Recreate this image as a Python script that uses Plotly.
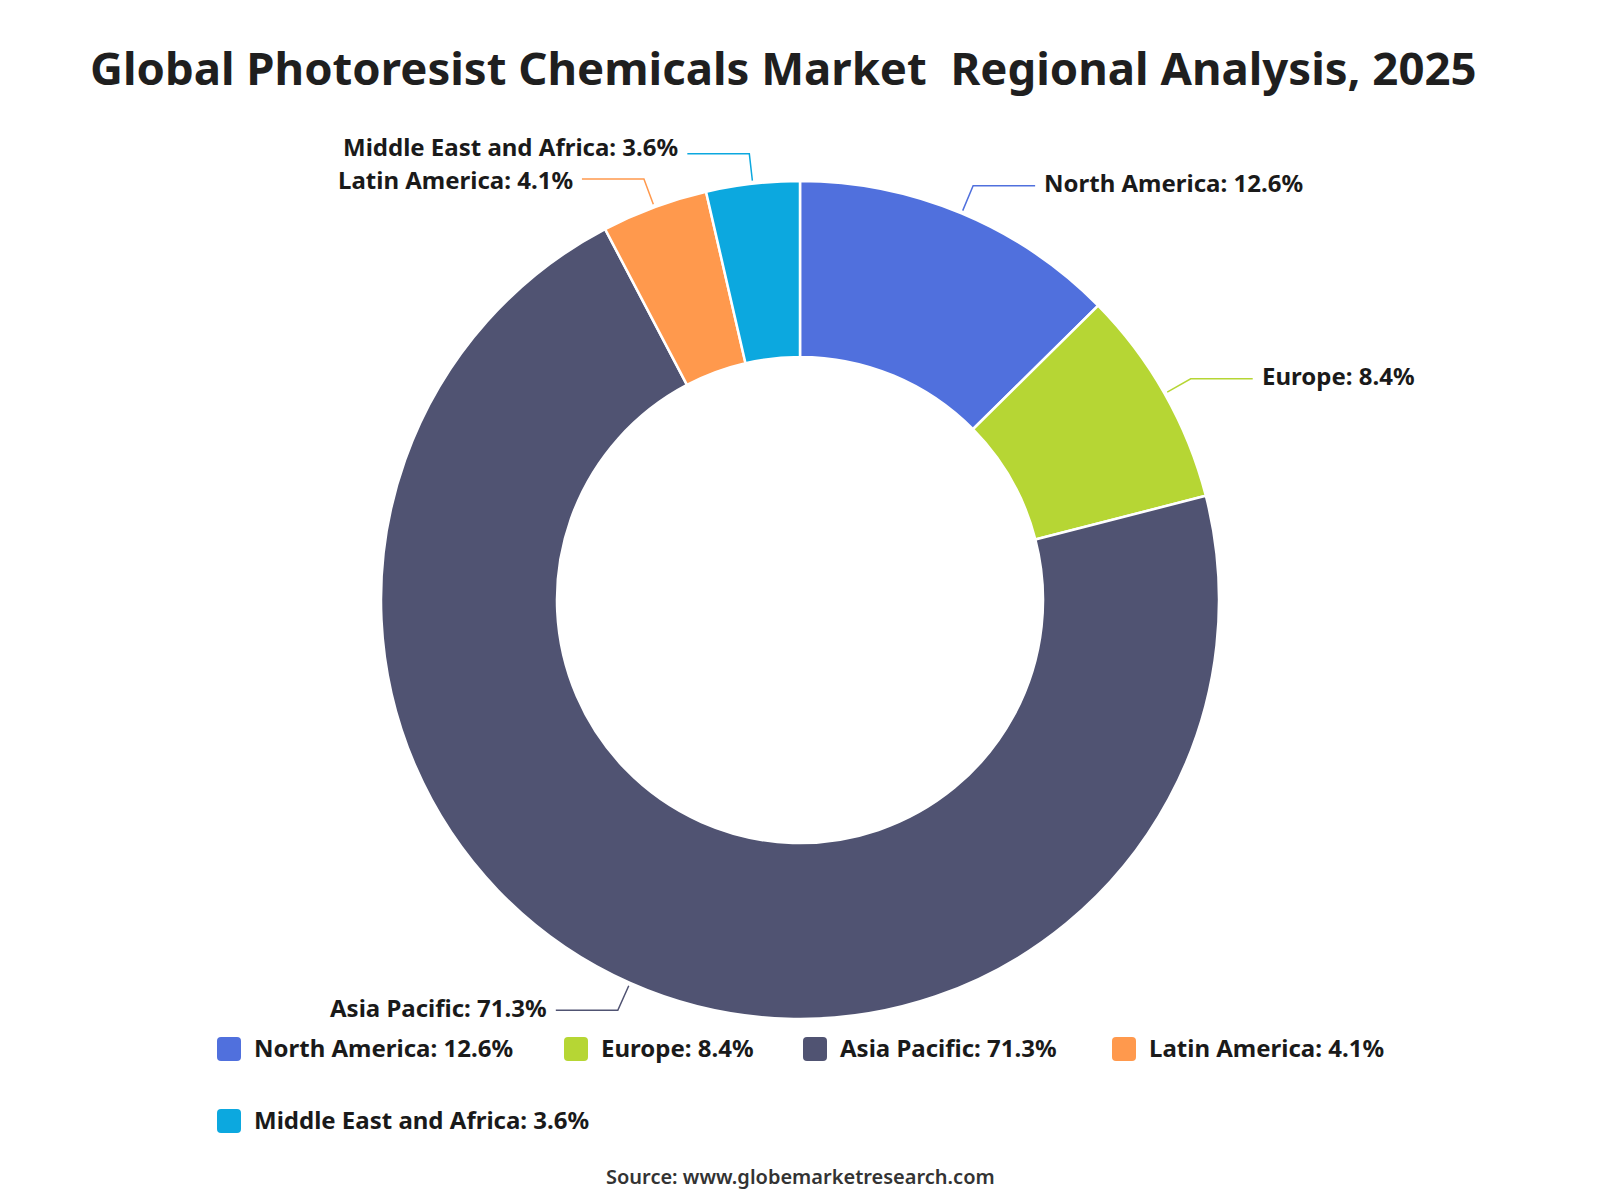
import math
import plotly.graph_objects as go

# ---- data ----
regions = ["North America", "Europe", "Asia Pacific", "Latin America", "Middle East and Africa"]
shares = [12.6, 8.4, 71.3, 4.1, 3.6]
colors = ["#5070dd", "#b6d634", "#505372", "#ff994d", "#0ca8df"]
title_text = "Global Photoresist Chemicals Market  Regional Analysis, 2025"
source_text = "Source: www.globemarketresearch.com"

# ---- layout constants (pixels) ----
W, H = 1600, 1200
CX, CY, R = 800, 600, 419
HOLE = 0.58
FONT = "Noto Sans"
LABEL_SIZE = 24
R1, R2, HLEN, GAP = 422, 449, 62, 7
LABEL_DY = -3
MIN_SPACING = 33
LEGEND_POS = [(217, 1049), (564, 1049), (803, 1049), (1112, 1049), (217, 1121)]
SW = 24


def px(x):
    return x / W


def py(y):
    return 1 - y / H


labels_full = [f"{r}: {v}%" for r, v in zip(regions, shares)]

fig = go.Figure(go.Pie(
    labels=regions,
    values=shares,
    hole=HOLE,
    sort=False,
    direction="clockwise",
    rotation=0,
    marker=dict(colors=colors, line=dict(color="white", width=2.5)),
    textinfo="none",
    hoverinfo="label+percent",
    showlegend=False,
    domain=dict(x=[px(CX - R), px(CX + R)], y=[py(CY + R), py(CY - R)]),
))

shapes = []
annotations = []

# leader lines and outside labels, derived from slice angles
total = sum(shares)
cum = 0.0
placed = []
for lab, v, c in zip(labels_full, shares, colors):
    mid = (cum + v / 2) / total * 2 * math.pi
    cum += v
    sx, sy = math.sin(mid), -math.cos(mid)
    x1, y1 = CX + R1 * sx, CY + R1 * sy
    x2, y2 = CX + R2 * sx, CY + R2 * sy
    right = sx >= 0
    x3 = x2 + HLEN if right else x2 - HLEN
    shapes.append(dict(
        type="path", xref="paper", yref="paper",
        path=f"M {px(x1)} {py(y1)} L {px(x2)} {py(y2)} L {px(x3)} {py(y2)}",
        line=dict(color=c, width=1.5),
    ))
    tx = x3 + GAP if right else x3 - GAP
    placed.append([lab, tx, y2 + LABEL_DY, right])

# avoid overlapping labels on the same side (spread pairs symmetrically)
for side in (True, False):
    items = sorted([p for p in placed if p[3] == side], key=lambda p: p[2])
    for a, b in zip(items, items[1:]):
        d = MIN_SPACING - (b[2] - a[2])
        if d > 0:
            a[2] -= d / 2
            b[2] += d / 2

for lab, tx, ty, right in placed:
    annotations.append(dict(
        x=px(tx), y=py(ty), xref="paper", yref="paper",
        text=f"<b>{lab}</b>", showarrow=False,
        xanchor="left" if right else "right", yanchor="middle",
        font=dict(family=FONT, size=LABEL_SIZE, color="#1a1a1a"),
    ))

# custom legend
def rrect(x0, y0, x1, y1, r):
    return (f"M {px(x0 + r)} {py(y0)} L {px(x1 - r)} {py(y0)} "
            f"Q {px(x1)} {py(y0)} {px(x1)} {py(y0 + r)} L {px(x1)} {py(y1 - r)} "
            f"Q {px(x1)} {py(y1)} {px(x1 - r)} {py(y1)} L {px(x0 + r)} {py(y1)} "
            f"Q {px(x0)} {py(y1)} {px(x0)} {py(y1 - r)} L {px(x0)} {py(y0 + r)} "
            f"Q {px(x0)} {py(y0)} {px(x0 + r)} {py(y0)} Z")


for (lx, ly), lab, c in zip(LEGEND_POS, labels_full, colors):
    shapes.append(dict(
        type="path", xref="paper", yref="paper",
        path=rrect(lx, ly - SW / 2, lx + SW, ly + SW / 2, 4),
        fillcolor=c, line=dict(width=0),
    ))
    annotations.append(dict(
        x=px(lx + SW + 11), y=py(ly - 2), xref="paper", yref="paper",
        text=f"<b>{lab}</b>", showarrow=False,
        xanchor="left", yanchor="middle",
        font=dict(family=FONT, size=LABEL_SIZE, color="#1a1a1a"),
    ))

# title and source
annotations.append(dict(
    x=px(783), y=py(67), xref="paper", yref="paper",
    text=f"<b>{title_text}</b>", showarrow=False,
    xanchor="center", yanchor="middle",
    font=dict(family=FONT, size=45.5, color="#1f1f1f"),
))
annotations.append(dict(
    x=px(800), y=py(1176), xref="paper", yref="paper",
    text=source_text, showarrow=False,
    xanchor="center", yanchor="middle",
    font=dict(family=FONT, size=20, color="#333333", weight=600),
))

fig.update_layout(
    width=W, height=H,
    margin=dict(l=0, r=0, t=0, b=0),
    paper_bgcolor="white",
    plot_bgcolor="white",
    shapes=shapes,
    annotations=annotations,
)

fig.write_html("out.html")
